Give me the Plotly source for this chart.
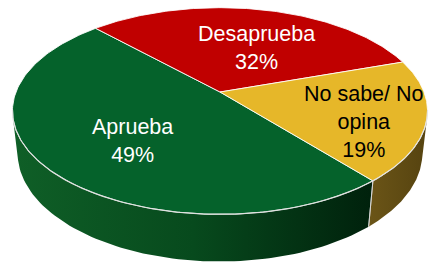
import numpy as np
import plotly.graph_objects as go

# ---- data ----
labels = ["Aprueba", "Desaprueba", "No sabe/ No opina"]
display_labels = ["Aprueba", "Desaprueba", "No sabe/ No<br>opina"]
values = [49, 32, 19]

# ---- styles ----
top_colors = ["#05622B", "#C00000", "#E6B729"]
side_scales = [
    [[0, "#0F5F27"], [0.5, "#074A1D"], [1, "#00210C"]],
    [[0, "#7A0000"], [1, "#5A0000"]],
    [[0, "#6B5517"], [1, "#564310"]],
]
text_colors = ["white", "white", "black"]
label_pos = [(132, 141), (256, 48), (364, 122)]

W, H = 430, 264
CX, CY = 220, 92            # projected pie centre (pixels)
ELEV = np.radians(29.3)     # camera elevation
DIST = 4.74                 # camera distance (pie radii)
FOCAL = 204 * DIST
THICK = 0.24                # pie thickness (pie radii)
START = 310.1               # start angle of first slice (deg), clockwise

se, ce = np.sin(ELEV), np.cos(ELEV)


def project(phi_deg, z):
    phi = np.radians(np.asarray(phi_deg, dtype=float))
    x, y = np.cos(phi), np.sin(phi)
    depth = DIST + y * ce - z * se
    return CX + FOCAL * x / depth, CY - FOCAL * (y * se + z * ce) / depth


# visible part of the cylinder wall
t = np.degrees(np.arcsin(1 / (DIST * ce)))
vis_lo, vis_hi = 180 + t, 360 - t

total = sum(values)
spans = [v / total * 360 for v in values]
bounds = []
a = START
for s in spans:
    bounds.append((a - s, a))
    a -= s

fig = go.Figure()

# side walls
for i, (b0, b1) in enumerate(bounds):
    for k in (-360, 0, 360):
        lo, hi = max(b0 + k, vis_lo), min(b1 + k, vis_hi)
        if hi > lo:
            ph = np.linspace(lo, hi, 80)
            tx, ty = project(ph, 0)
            bx, by = project(ph[::-1], -THICK)
            fig.add_trace(go.Scatter(
                x=np.concatenate([tx, bx, tx[:1]]),
                y=np.concatenate([ty, by, ty[:1]]),
                mode="lines", fill="toself",
                line=dict(width=0, color=side_scales[i][-1][1]),
                fillgradient=dict(type="horizontal", colorscale=side_scales[i]),
                hoverinfo="skip", showlegend=False))

# boundary edges on the wall
for (b0, b1) in bounds:
    for b in (b0, b1):
        for k in (-360, 0, 360):
            if vis_lo < b + k < vis_hi:
                x0, y0 = project([b + k], 0)
                x1, y1 = project([b + k], -THICK)
                fig.add_trace(go.Scatter(
                    x=[x0[0], x1[0]], y=[y0[0], y1[0]], mode="lines",
                    line=dict(color="rgba(215,215,215,0.85)", width=1),
                    hoverinfo="skip", showlegend=False))

# top faces
for i, (b0, b1) in enumerate(bounds):
    ph = np.linspace(b1, b0, 150)
    ax_, ay_ = project(ph, 0)
    fig.add_trace(go.Scatter(
        x=np.concatenate([[CX], ax_, [CX]]),
        y=np.concatenate([[CY], ay_, [CY]]),
        mode="lines", fill="toself", fillcolor=top_colors[i],
        line=dict(color="rgba(255,255,255,0.85)", width=1),
        name=labels[i], hoverinfo="name", showlegend=False))

# front rim highlight
ph = np.linspace(vis_lo - 4, vis_hi + 4, 200)
rx, ry = project(ph, 0)
fig.add_trace(go.Scatter(x=rx, y=ry, mode="lines",
                         line=dict(color="rgba(225,225,225,0.9)", width=1.2),
                         hoverinfo="skip", showlegend=False))

for i in range(len(values)):
    fig.add_annotation(
        x=label_pos[i][0], y=label_pos[i][1], xref="x", yref="y",
        text=f"{display_labels[i]}<br>{values[i]}%", showarrow=False,
        font=dict(family="Liberation Sans, Arial, sans-serif", size=21.5,
                  color=text_colors[i]),
        xanchor="center", yanchor="middle", align="center")

fig.update_layout(
    width=W, height=H, margin=dict(l=0, r=0, t=0, b=0),
    paper_bgcolor="white", plot_bgcolor="white", showlegend=False,
    xaxis=dict(range=[0, W], visible=False, fixedrange=True),
    yaxis=dict(range=[H, 0], visible=False, fixedrange=True),
)

fig.write_html("out.html",
               config={"displayModeBar": False},
               post_script="document.body.style.margin='0';"
                           "document.body.style.overflow='hidden';")
